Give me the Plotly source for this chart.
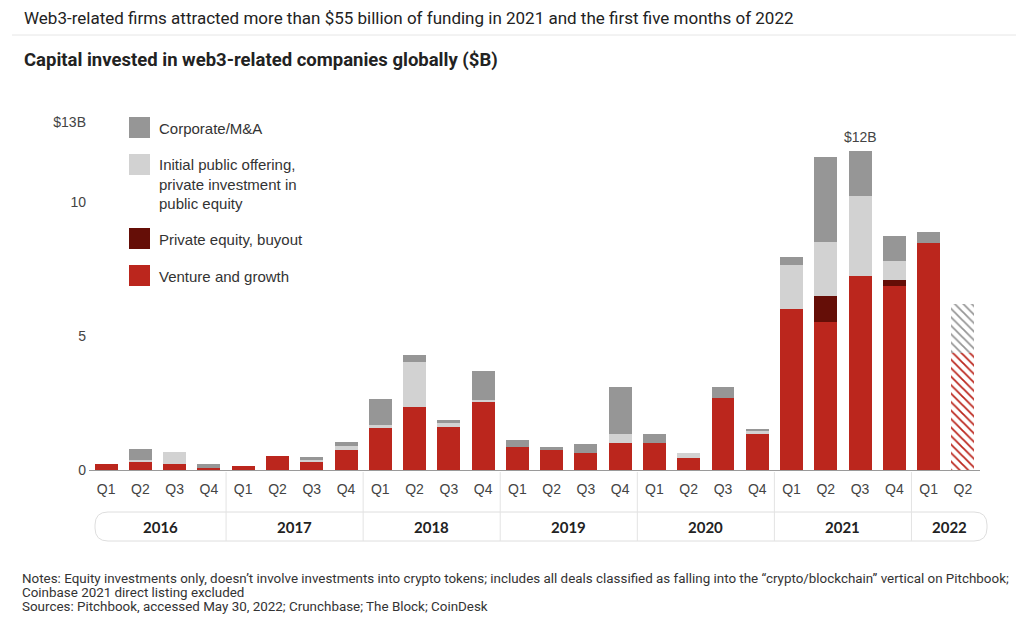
import plotly.graph_objects as go

# ---------------- data ----------------
years = ["2016", "2017", "2018", "2019", "2020", "2021", "2022"]
quarters = ["Q1", "Q2", "Q3", "Q4"] * 6 + ["Q1", "Q2"]

venture = [0.22, 0.33, 0.22, 0.06, 0.15, 0.52, 0.30, 0.73, 1.58, 2.36, 1.60, 2.52,
           0.86, 0.78, 0.65, 1.00, 0.99, 0.43, 2.67, 1.33, 6.00, 5.51, 7.24, 6.85,
           8.48, None]
private_equity = [0, 0, 0, 0, 0, 0, 0, 0, 0, 0, 0, 0,
                  0, 0, 0, 0, 0, 0, 0, 0, 0, 0.98, 0, 0.24,
                  0, None]
ipo_pipe = [0, 0.03, 0.44, 0, 0, 0, 0.06, 0.17, 0.10, 1.67, 0.17, 0.09,
            0, 0, 0, 0.35, 0, 0.19, 0, 0.14, 1.65, 2.03, 3.00, 0.72,
            0, None]
corporate = [0, 0.42, 0, 0.16, 0, 0, 0.12, 0.13, 0.97, 0.27, 0.08, 1.08,
             0.26, 0.07, 0.32, 1.73, 0.36, 0, 0.41, 0.07, 0.29, 3.17, 1.67, 0.93,
             0.41, None]
# Q2 2022 (partial / projected, hatched)
proj_venture = [4.35]
proj_other = [1.83]

legend_labels = ["Corporate/M&A",
                 "Initial public offering,<br>private investment in<br>public equity",
                 "Private equity, buyout",
                 "Venture and growth"]

title_text = "Web3-related firms attracted more than $55 billion of funding in 2021 and the first five months of 2022"
subtitle_text = "Capital invested in web3-related companies globally ($B)"
note_lines = [
    "Notes: Equity investments only, doesn\u2019t involve investments into crypto tokens; includes all deals classified as falling into the \u201ccrypto/blockchain\u201d vertical on Pitchbook;",
    "Coinbase 2021 direct listing excluded",
    "Sources: Pitchbook, accessed May 30, 2022; Crunchbase; The Block; CoinDesk",
]

# ---------------- style ----------------
RED = "#BB261D"
DARK = "#650E07"
GRAY = "#969696"
LIGHT = "#D2D2D2"
TXT = "#333333"
FONT = "Liberation Sans, Arial, sans-serif"
NARROW = "Roboto, sans-serif"

OFF = 8                      # page body margin of the browser
W, H = 1024 - 2 * OFF, 627 - 2 * OFF
PLOT_L, PLOT_R, PLOT_T, PLOT_B = 89, 980, 100, 470   # target positions in page pixels
ML = PLOT_L - OFF
MR = W - (PLOT_R - OFF)
MT = PLOT_T - OFF
MB = H - (PLOT_B - OFF)
PW, PH = W - ML - MR, H - MT - MB
ncat = len(quarters)


def px2x(px):
    return (px - PLOT_L) / PW


def px2y(py):
    return (PLOT_B - py) / PH


xs = list(range(ncat))
fig = go.Figure()
for vals, col in [(venture, RED), (private_equity, DARK), (ipo_pipe, LIGHT), (corporate, GRAY)]:
    fig.add_trace(go.Bar(x=xs, y=vals, marker=dict(color=col, line=dict(width=0)),
                         showlegend=False, hoverinfo="y"))
for vals, col in [(proj_venture, RED), (proj_other, GRAY)]:
    fig.add_trace(go.Bar(x=[ncat - 1], y=vals,
                         marker=dict(color=col, line=dict(width=0),
                                     pattern=dict(shape="\\", fgcolor=col, size=6,
                                                  solidity=0.3, fillmode="replace")),
                         showlegend=False, hoverinfo="y"))

ymax = PH / 26.8
fig.update_layout(
    width=W, height=H, barmode="stack", bargap=0.33,
    margin=dict(l=ML, r=MR, t=MT, b=MB),
    plot_bgcolor="white", paper_bgcolor="white",
    font=dict(family=FONT, color=TXT, size=14),
    xaxis=dict(range=[-0.5, ncat - 0.5], tickvals=xs, ticktext=quarters,
               showgrid=False, zeroline=False, showline=True, linecolor="#9a9a9a",
               linewidth=1, ticks="", tickfont=dict(size=14, color="#444"),
               ticklabelstandoff=6),
    yaxis=dict(range=[0, ymax], tickvals=[0, 5, 10, 13], ticktext=["0", "5", "10", "$13B"],
               showgrid=False, zeroline=False, showline=False, ticks="",
               tickfont=dict(size=14, color="#444"), ticklabelstandoff=2),
)

ann = []
shapes = []
# title, rule, subtitle
ann.append(dict(text=title_text,
                x=px2x(22), y=px2y(18), xref="paper", yref="paper", xanchor="left", yanchor="middle",
                showarrow=False, font=dict(family=NARROW, size=17, color="#222")))
shapes.append(dict(type="line", xref="paper", yref="paper", x0=px2x(12), x1=px2x(1016),
                   y0=px2y(35), y1=px2y(35), line=dict(color="#e6e6e6", width=1)))
ann.append(dict(text="<b>%s</b>" % subtitle_text,
                x=px2x(22), y=px2y(60), xref="paper", yref="paper", xanchor="left", yanchor="middle",
                showarrow=False, font=dict(family=NARROW, size=18.5, color="#222")))

# legend
legend_cols = [GRAY, LIGHT, DARK, RED]
legend_top = [117, 154, 228, 265]
legend_text_y = [128, 184, 239, 276]
for lab, col, top, ty in zip(legend_labels, legend_cols, legend_top, legend_text_y):
    shapes.append(dict(type="rect", xref="paper", yref="paper", x0=px2x(129), x1=px2x(150),
                       y0=px2y(top), y1=px2y(top + 21), fillcolor=col, line=dict(width=0)))
    ann.append(dict(text=lab, x=px2x(157), y=px2y(ty), xref="paper", yref="paper",
                    xanchor="left", yanchor="middle", align="left", showarrow=False,
                    font=dict(size=15, color=TXT)))

# total label on 2021 Q3
totals = [sum(v or 0 for v in t) for t in zip(venture, private_equity, ipo_pipe, corporate)]
imax = max(range(ncat), key=lambda i: totals[i])
ann.append(dict(text="$%dB" % round(totals[imax]), x=imax, y=totals[imax], xref="x", yref="y",
                yanchor="bottom", yshift=4, showarrow=False, font=dict(size=14, color="#444")))

# year band
band_l, band_r, band_t, band_b, r = 95, 987, 512, 541, 13
X = px2x
Y = px2y
path = (f"M {X(band_l + r)},{Y(band_t)} L {X(band_r - r)},{Y(band_t)} "
        f"Q {X(band_r)},{Y(band_t)} {X(band_r)},{Y(band_t + r)} "
        f"L {X(band_r)},{Y(band_b - r)} Q {X(band_r)},{Y(band_b)} {X(band_r - r)},{Y(band_b)} "
        f"L {X(band_l + r)},{Y(band_b)} Q {X(band_l)},{Y(band_b)} {X(band_l)},{Y(band_b - r)} "
        f"L {X(band_l)},{Y(band_t + r)} Q {X(band_l)},{Y(band_t)} {X(band_l + r)},{Y(band_t)} Z")
shapes.append(dict(type="path", xref="paper", yref="paper", path=path,
                   line=dict(color="#dedede", width=1)))
year_len = [4, 4, 4, 4, 4, 4, 2]
bounds_cat = []
acc = 0
for n in year_len[:-1]:
    acc += n
    bounds_cat.append(acc)
bounds_paper = [b / ncat for b in bounds_cat]
for bp in bounds_paper:
    shapes.append(dict(type="line", xref="paper", yref="paper", x0=bp, x1=bp,
                       y0=px2y(472), y1=px2y(band_b), line=dict(color="#e3e3e3", width=1)))
edges = [X(band_l)] + bounds_paper + [X(band_r)]
for i, yr in enumerate(years):
    ann.append(dict(text="<b>%s</b>" % yr, x=(edges[i] + edges[i + 1]) / 2, y=px2y(527),
                    xref="paper", yref="paper", xanchor="center", yanchor="middle",
                    showarrow=False, font=dict(family="Lato, sans-serif", size=15, color="#222")))

# notes
for line, ly in zip(note_lines, [578, 592, 606]):
    ann.append(dict(text=line, x=px2x(20), y=px2y(ly), xref="paper", yref="paper",
                    xanchor="left", yanchor="middle", align="left", showarrow=False,
                    font=dict(family=NARROW, size=13.4, color="#333")))

fig.update_layout(annotations=ann, shapes=shapes)
fig.write_html("out.html")
